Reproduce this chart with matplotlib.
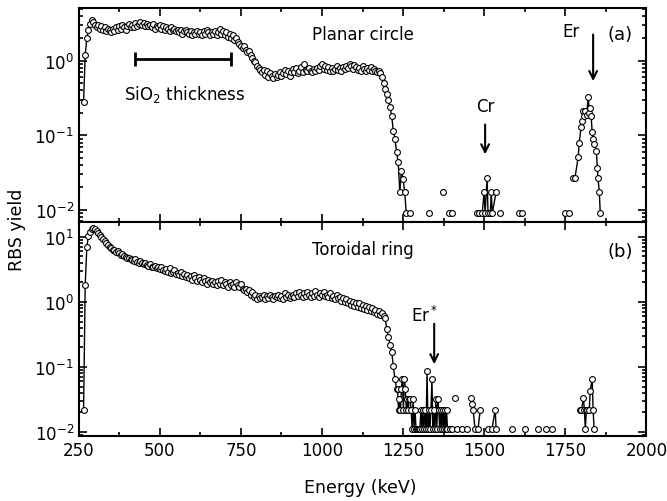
import numpy as np
import matplotlib.pyplot as plt
from matplotlib.ticker import LogLocator, MultipleLocator, NullFormatter

# -------------------------------
# Panel (a): planar circle, 5 keV channels from 265 keV
# -------------------------------
yield_a = [
    0.28, 1.2, 2.0, 2.6, 3.1, 3.5, 3.3, 3.0, 2.8, 3.0,
    2.7, 2.9, 2.6, 2.8, 2.5, 2.7, 2.6, 2.4, 2.7, 2.5,
    2.8, 2.6, 2.9, 2.7, 3.0, 2.8, 2.6, 2.9, 3.1, 2.8,
    3.0, 2.8, 3.2, 2.9, 3.1, 3.3, 3.0, 3.2, 2.9, 3.1,
    2.9, 3.0, 2.8, 3.1, 2.7, 2.9, 2.8, 3.0, 2.7, 2.9,
    2.6, 2.8, 2.7, 2.5, 2.8, 2.6, 2.7, 2.5, 2.6, 2.4,
    2.6, 2.3, 2.5, 2.6, 2.4, 2.3, 2.5, 2.2, 2.4, 2.3,
    2.5, 2.3, 2.4, 2.2, 2.5, 2.3, 2.6, 2.4, 2.2, 2.4,
    2.3, 2.5, 2.2, 2.4, 2.7, 2.3, 2.5, 2.2, 2.4, 2.1,
    2.3, 2.0, 2.2, 1.9, 2.0, 1.8, 1.7, 1.6, 1.5, 1.6,
    1.4, 1.3, 1.35, 1.2, 1.1, 1.0, 0.95, 0.85, 0.8, 0.75,
    0.7, 0.75, 0.65, 0.72, 0.6, 0.68, 0.62, 0.58, 0.66, 0.6,
    0.65, 0.7, 0.62, 0.68, 0.75, 0.66, 0.72, 0.63, 0.7, 0.78,
    0.7, 0.8, 0.68, 0.74, 0.82, 0.7, 0.9, 0.76, 0.72, 0.8,
    0.74, 0.7, 0.78, 0.72, 0.8, 0.76, 0.86, 0.9, 0.78, 0.84,
    0.76, 0.82, 0.74, 0.8, 0.72, 0.78, 0.84, 0.76, 0.8, 0.74,
    0.82, 0.78, 0.86, 0.8, 0.9, 0.84, 0.78, 0.88, 0.82, 0.76,
    0.8, 0.74, 0.84, 0.78, 0.72, 0.8, 0.76, 0.82, 0.74, 0.78,
    0.74, 0.7, 0.72, 0.68, 0.6, 0.5, 0.42, 0.36, 0.3, 0.24,
    0.18, 0.115, 0.09, 0.06, 0.044, 0.0174, 0.033, 0.026, 0.0174, 0.009,
]
energy_a = 265 + 5 * np.arange(len(yield_a))

# sparse high-energy channels (nan = gap between groups)
tail_a_e = [1272, np.nan, 1330, np.nan, 1373, np.nan, 1392, 1401, np.nan,
            1478, 1485, 1494, 1500, 1503, 1509, 1512, 1519, 1522, 1525, 1537,
            np.nan, 1549, np.nan, 1608, 1617, np.nan, 1750, 1762, np.nan,
            1775, 1780, 1790, 1793, 1799, 1803, 1806, 1809, 1812, 1816, 1821,
            1824, 1827, 1830, 1833, 1836, 1840, 1846, 1849, 1851, 1855, 1858]
tail_a_y = [0.009, np.nan, 0.009, np.nan, 0.0174, np.nan, 0.009, 0.009, np.nan,
            0.009, 0.009, 0.009, 0.0174, 0.009, 0.027, 0.009, 0.009, 0.0174, 0.009, 0.0174,
            np.nan, 0.009, np.nan, 0.009, 0.009, np.nan, 0.009, 0.009, np.nan,
            0.027, 0.027, 0.051, 0.079, 0.13, 0.157, 0.21, 0.18, 0.21, 0.19, 0.33,
            0.2, 0.23, 0.18, 0.11, 0.09, 0.077, 0.062, 0.036, 0.027, 0.0174, 0.009]

# -------------------------------
# Panel (b): toroidal ring, 5 keV channels from 265 keV
# -------------------------------
yield_b = [
    0.022, 1.8, 7.0, 10.4, 12.0, 13.0, 13.5, 13.2, 12.3, 11.5,
    10.6, 10.0, 9.3, 8.6, 8.0, 7.4, 7.0, 6.7, 6.3, 6.2,
    5.9, 6.0, 5.6, 5.3, 5.4, 5.0, 4.9, 4.7, 4.8, 4.5,
    4.4, 4.3, 4.5, 4.1, 4.0, 4.2, 3.9, 3.8, 4.0, 3.7,
    3.6, 3.8, 3.5, 3.4, 3.6, 3.3, 3.5, 3.2, 3.4, 3.1,
    3.0, 3.2, 2.9, 3.3, 2.8, 2.9, 3.1, 2.7, 2.8, 2.6,
    2.9, 2.5, 2.7, 2.4, 2.6, 2.3, 2.5, 2.2, 2.6, 2.3,
    2.1, 2.4, 2.2, 2.0, 2.3, 2.1, 1.9, 2.2, 2.0, 2.1,
    1.9, 2.0, 1.8, 2.1, 1.9, 2.2, 1.8, 2.0, 1.9, 1.7,
    2.0, 1.8, 1.9, 1.7, 2.0, 1.8, 1.7, 1.9, 1.6, 1.5,
    1.6, 1.4, 1.5, 1.3, 1.4, 1.2, 1.3, 1.1, 1.25, 1.15,
    1.2, 1.3, 1.1, 1.25, 1.15, 1.3, 1.2, 1.1, 1.25, 1.2,
    1.3, 1.15, 1.25, 1.1, 1.35, 1.2, 1.3, 1.15, 1.25, 1.3,
    1.2, 1.35, 1.25, 1.4, 1.3, 1.2, 1.35, 1.25, 1.4, 1.3,
    1.2, 1.35, 1.25, 1.45, 1.3, 1.2, 1.35, 1.3, 1.4, 1.25,
    1.3, 1.2, 1.35, 1.15, 1.25, 1.1, 1.3, 1.15, 1.2, 1.05,
    1.15, 1.0, 1.1, 0.95, 1.05, 0.9, 1.0, 0.88, 0.98, 0.85,
    0.95, 0.82, 0.9, 0.78, 0.86, 0.75, 0.85, 0.72, 0.8, 0.7,
    0.76, 0.66, 0.72, 0.64, 0.68, 0.6, 0.56, 0.38, 0.29, 0.22,
    0.17, 0.104, 0.065, 0.046,
]
energy_b = 265 + 5 * np.arange(len(yield_b))

tail_b_e = [1233, 1236, 1239, 1242, 1245, 1248, 1251, 1254, 1257, 1260,
            1263, 1266, 1269, 1272, 1275, 1278, 1281, 1284, 1287, 1290,
            1293, 1296, 1299, 1302, 1305, 1308, 1311, 1314, 1318, 1321,
            1324, 1327, 1330, 1333, 1336, 1339, 1342, 1345, 1348, 1351,
            1354, 1357, 1360, 1363, 1366, 1369, 1372, 1375, 1378, 1381,
            1384, 1387, np.nan, 1395, 1401, np.nan, 1410, np.nan, 1416, 1432, 1447,
            np.nan, 1460, 1463, 1466, 1472, np.nan, 1481, 1488, np.nan,
            1512, 1524, 1534, 1537, np.nan, 1586, np.nan, 1627, np.nan,
            1667, np.nan, 1692, 1710, np.nan,
            1796, 1800, 1806, 1809, 1812, 1815, 1818, 1824, 1827, 1833, 1836, 1839]
tail_b_y = [0.046, 0.022, 0.032, 0.022, 0.046, 0.065, 0.022, 0.065, 0.046, 0.022,
            0.032, 0.022, 0.032, 0.032, 0.022, 0.011, 0.032, 0.011, 0.022, 0.011,
            0.011, 0.011, 0.011, 0.011, 0.022, 0.011, 0.022, 0.011, 0.022, 0.011,
            0.087, 0.011, 0.022, 0.011, 0.022, 0.065, 0.011, 0.022, 0.011, 0.032,
            0.011, 0.032, 0.022, 0.011, 0.022, 0.011, 0.022, 0.011, 0.022, 0.011,
            0.022, 0.011, np.nan, 0.011, 0.011, np.nan, 0.033, np.nan, 0.011, 0.011, 0.011,
            np.nan, 0.033, 0.027, 0.022, 0.011, np.nan, 0.011, 0.022, np.nan,
            0.011, 0.011, 0.022, 0.011, np.nan, 0.011, np.nan, 0.011, np.nan,
            0.011, np.nan, 0.011, 0.011, np.nan,
            0.022, 0.022, 0.033, 0.022, 0.011, 0.022, 0.022, 0.022, 0.043, 0.065, 0.022, 0.011]

x_ticks = [250, 500, 750, 1000, 1250, 1500, 1750, 2000]

# -------------------------------
# Figure
# -------------------------------
plt.rcParams['font.family'] = 'DejaVu Sans'
plt.rcParams['font.size'] = 12
plt.rcParams['mathtext.default'] = 'regular'

fig = plt.figure(figsize=(6.67, 5.02), dpi=100)
ax_a = fig.add_axes([0.118, 0.556, 0.851, 0.426])
ax_b = fig.add_axes([0.118, 0.1295, 0.851, 0.4265])

style = dict(color='k', lw=1.0, marker='o', ms=4.2, mfc='white', mec='k', mew=0.8)

ax_a.plot(energy_a, yield_a, **style)
ax_a.plot(tail_a_e, tail_a_y, **style)
ax_b.plot(energy_b, yield_b, **style)
ax_b.plot(tail_b_e, tail_b_y, **style)

for ax in (ax_a, ax_b):
    ax.set_yscale('log')
    ax.set_xlim(250, 2000)
    ax.set_xticks(x_ticks)
    ax.xaxis.set_minor_locator(MultipleLocator(125))
    ax.yaxis.set_major_locator(LogLocator(base=10))
    ax.yaxis.set_minor_locator(LogLocator(base=10, subs=np.arange(2, 10)))
    ax.yaxis.set_minor_formatter(NullFormatter())
    ax.tick_params(which='both', direction='in', top=True, right=True, width=1.2)
    ax.tick_params(which='major', length=6, labelsize=12)
    ax.tick_params(which='minor', length=3)
    for s in ax.spines.values():
        s.set_linewidth(1.5)

ax_a.set_ylim(0.0069, 5.1)
ax_b.set_ylim(0.0087, 17)
ax_a.tick_params(labelbottom=False)

# panel labels
ax_a.text(0.5, 0.88, 'Planar circle', transform=ax_a.transAxes, ha='center', va='center')
ax_a.text(0.954, 0.88, '(a)', transform=ax_a.transAxes, ha='center', va='center', fontsize=13)
ax_b.text(0.5, 0.874, 'Toroidal ring', transform=ax_b.transAxes, ha='center', va='center')
ax_b.text(0.954, 0.866, '(b)', transform=ax_b.transAxes, ha='center', va='center', fontsize=13)

# SiO2 thickness bar
ax_a.errorbar([572], [1.06], xerr=[[149], [149]], fmt='none', ecolor='k',
              elinewidth=2, capsize=5, capthick=2)
ax_a.text(577, 0.36, 'SiO$_2$ thickness', ha='center', va='center')

# element markers
arrow = dict(arrowstyle='->', color='k', lw=1.5, mutation_scale=14)
ax_a.annotate('', xy=(1836, 0.49), xytext=(1836, 2.45), arrowprops=arrow)
ax_a.text(1769, 2.5, 'Er', ha='center', va='center')
ax_a.annotate('', xy=(1503, 0.051), xytext=(1503, 0.152), arrowprops=arrow)
ax_a.text(1503, 0.25, 'Cr', ha='center', va='center')
ax_b.annotate('', xy=(1346, 0.1), xytext=(1346, 0.51), arrowprops=arrow)
ax_b.text(1318, 0.62, 'Er$^*$', ha='center', va='center')

fig.text(17 / 667, 0.542, 'RBS yield', rotation=90, ha='center', va='center', fontsize=12.5)
fig.text(360 / 667, 1 - 488 / 502, 'Energy (keV)', ha='center', va='center', fontsize=12.5)

fig.savefig('out.png', dpi=100)
